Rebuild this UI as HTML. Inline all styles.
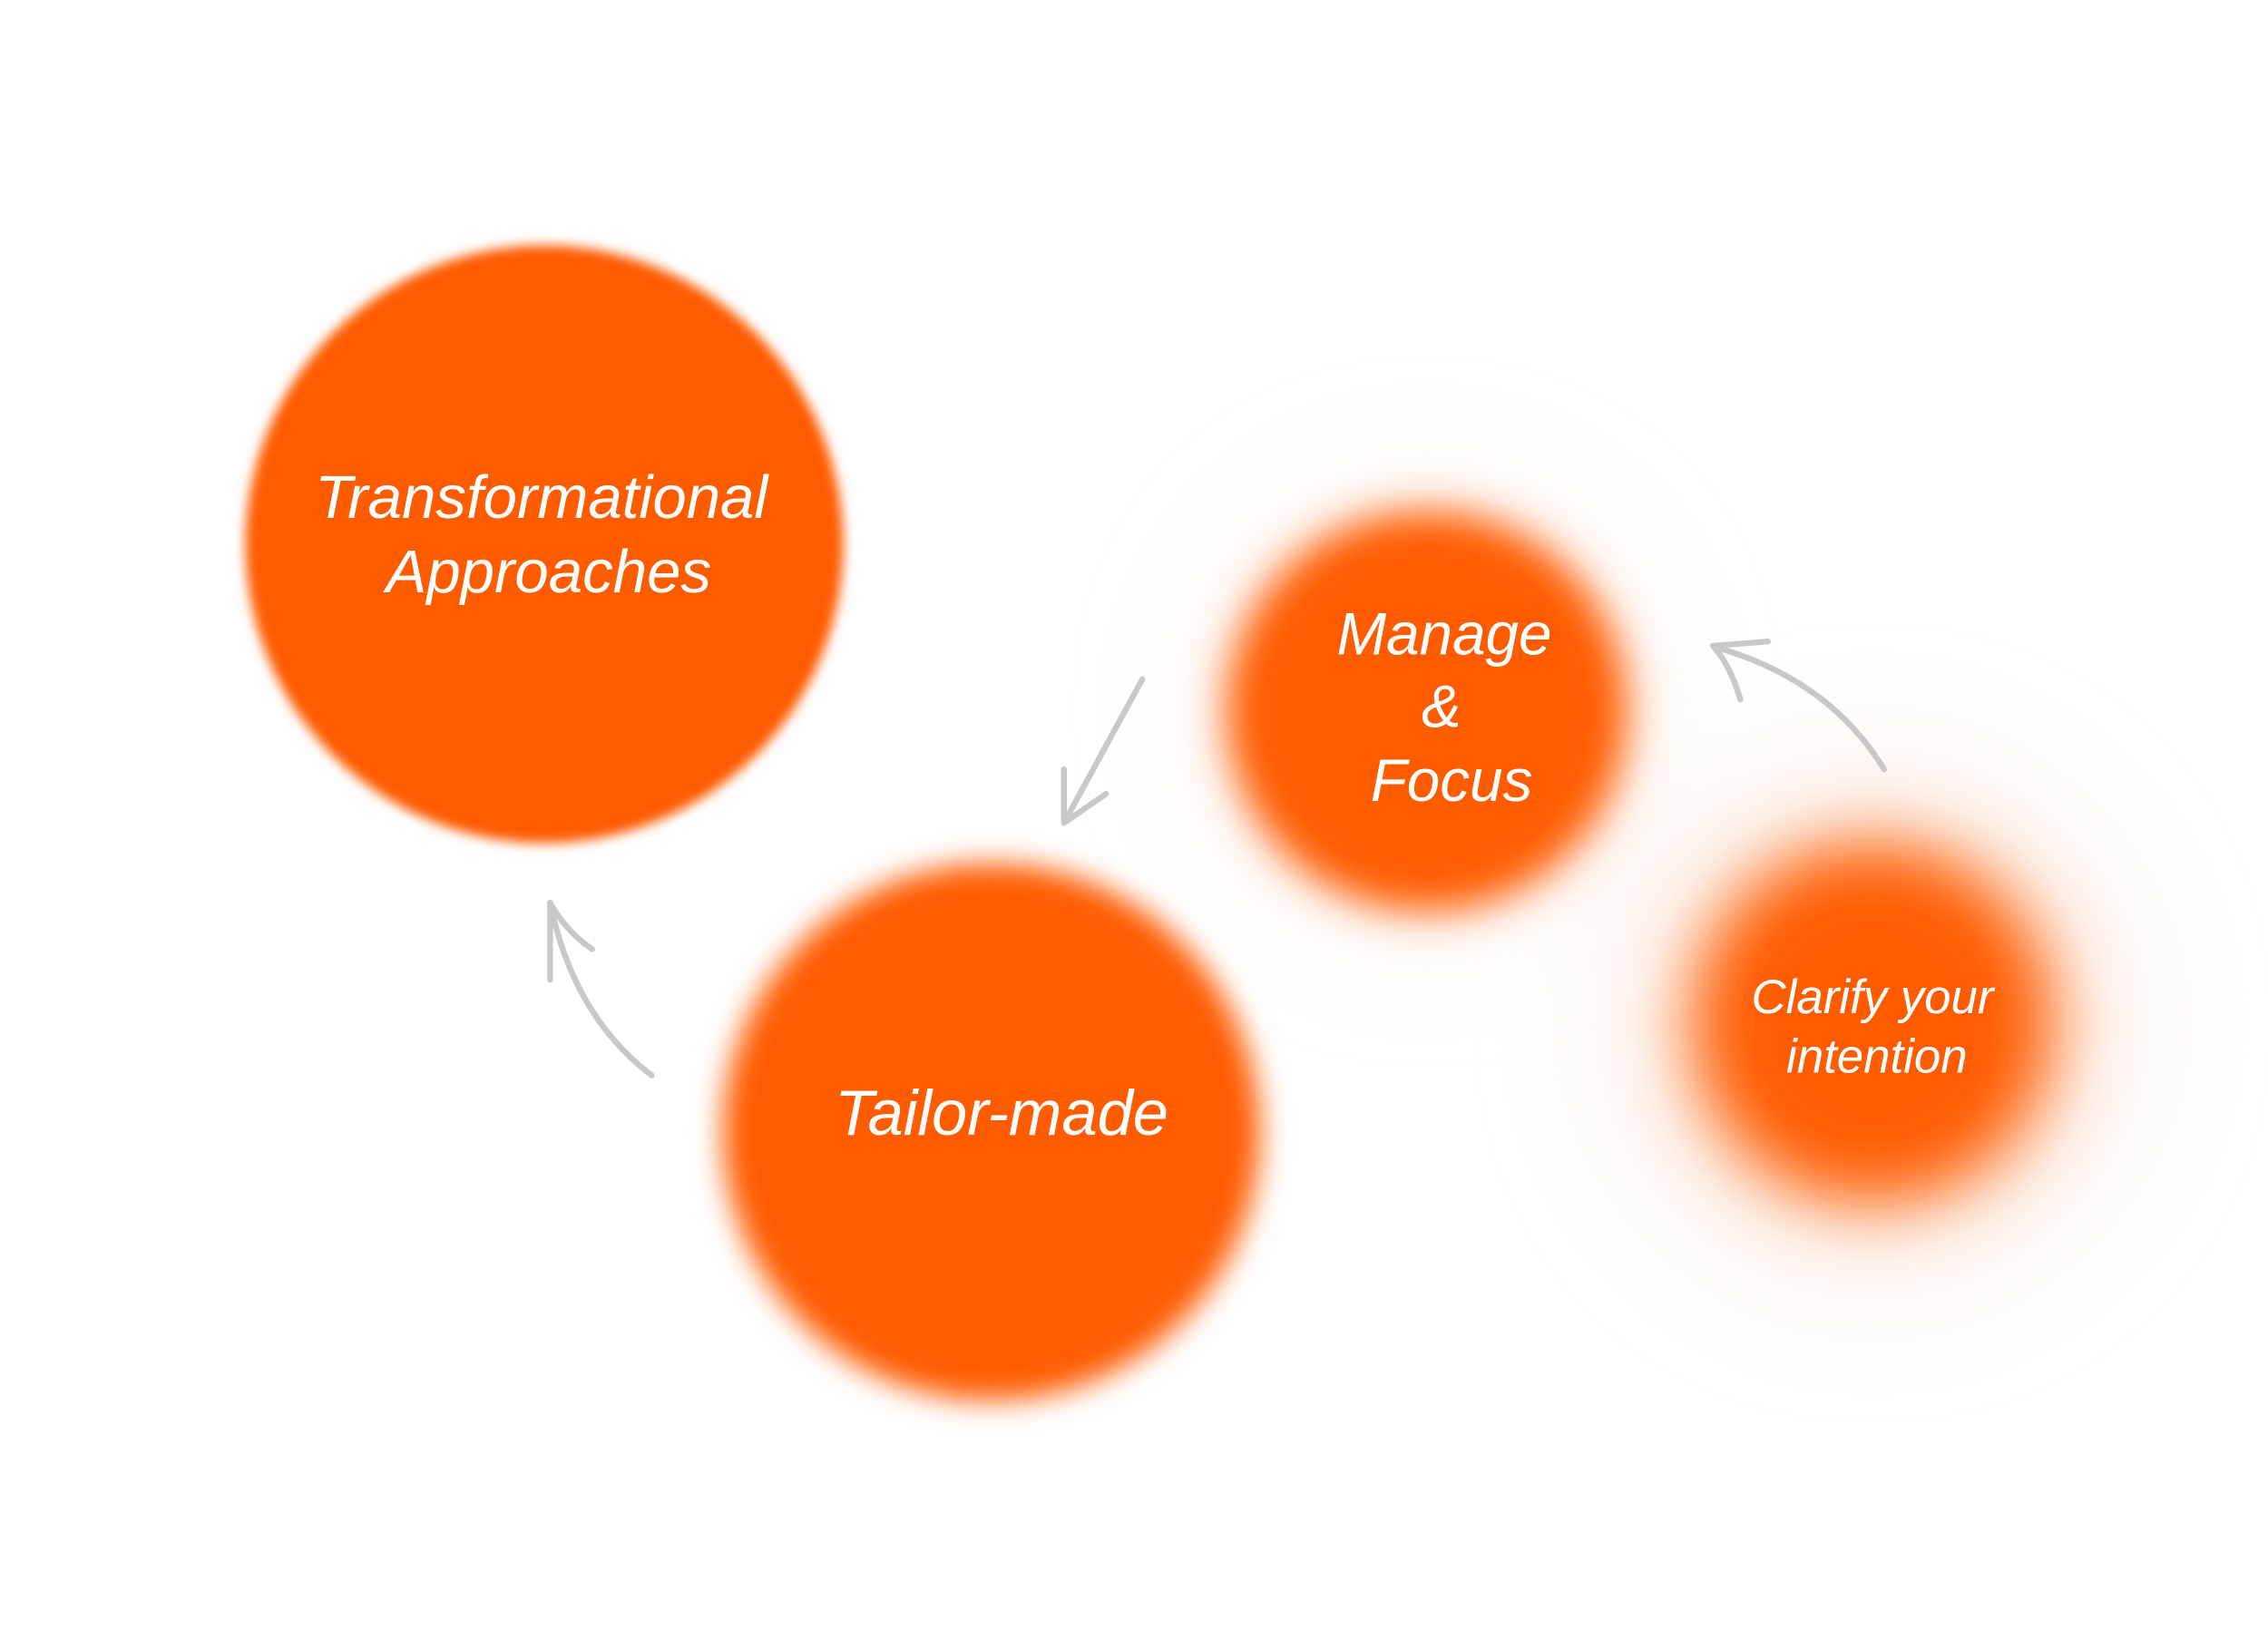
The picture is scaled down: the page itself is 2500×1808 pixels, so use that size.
<!DOCTYPE html>
<html><head><meta charset="utf-8"><style>
html,body{margin:0;padding:0;background:#fff;}
svg{display:block;}
text{font-family:"Liberation Sans",sans-serif;font-style:italic;fill:#fff;text-anchor:middle;}
</style></head><body>
<svg width="2500" height="1808" viewBox="0 0 1562.5 1130" xmlns="http://www.w3.org/2000/svg">
<defs>
<filter id="b1" x="-20%" y="-20%" width="140%" height="140%"><feGaussianBlur stdDeviation="4"/></filter>
<filter id="b2" x="-50%" y="-50%" width="200%" height="200%"><feGaussianBlur stdDeviation="14"/></filter>
<filter id="b3" x="-50%" y="-50%" width="200%" height="200%"><feGaussianBlur stdDeviation="10"/></filter>
<filter id="b4" x="-80%" y="-80%" width="260%" height="260%"><feGaussianBlur stdDeviation="24"/></filter>
<filter id="b5" x="-80%" y="-80%" width="260%" height="260%"><feGaussianBlur stdDeviation="40"/></filter>
</defs>
<rect width="1562.5" height="1130" fill="#fff"/>
<circle cx="1290" cy="705" r="190" fill="#fbe9dd" filter="url(#b5)" opacity="0.6"/>
<circle cx="1290" cy="705" r="125" fill="#ff5c00" filter="url(#b4)"/>
<circle cx="983" cy="490" r="160" fill="#fde8da" filter="url(#b5)" opacity="0.5"/>
<circle cx="983" cy="490" r="138" fill="#ff5c00" filter="url(#b2)"/>
<circle cx="683" cy="780" r="185" fill="#ff5c00" filter="url(#b3)"/>
<circle cx="375" cy="375" r="206" fill="#ff5c00" filter="url(#b1)"/>

<g fill="none" stroke="#c8c8c8" stroke-width="4" stroke-linecap="round" stroke-linejoin="round">
<path d="M787 468 L733 567"/>
<path d="M733 530 L733 567 L762 547"/>
<path d="M1298 530 Q1260 468 1182 446"/>
<path d="M1218 442 L1180 445 Q1192 458 1199 482"/>
<path d="M449 741 Q395 700 379 622"/>
<path d="M379 675 L379 622 Q390 642 408 654"/>
</g>

<text x="373" y="357" font-size="42">Transformational</text>
<text x="378" y="408" font-size="42">Approaches</text>
<text x="995" y="451" font-size="41">Manage</text>
<text x="993" y="501" font-size="41">&amp;</text>
<text x="1000" y="552" font-size="41">Focus</text>
<text x="690" y="782" font-size="44">Tailor-made</text>
<text x="1290" y="698" font-size="33">Clarify your</text>
<text x="1293" y="739" font-size="33">intention</text>
</svg>
</body></html>
